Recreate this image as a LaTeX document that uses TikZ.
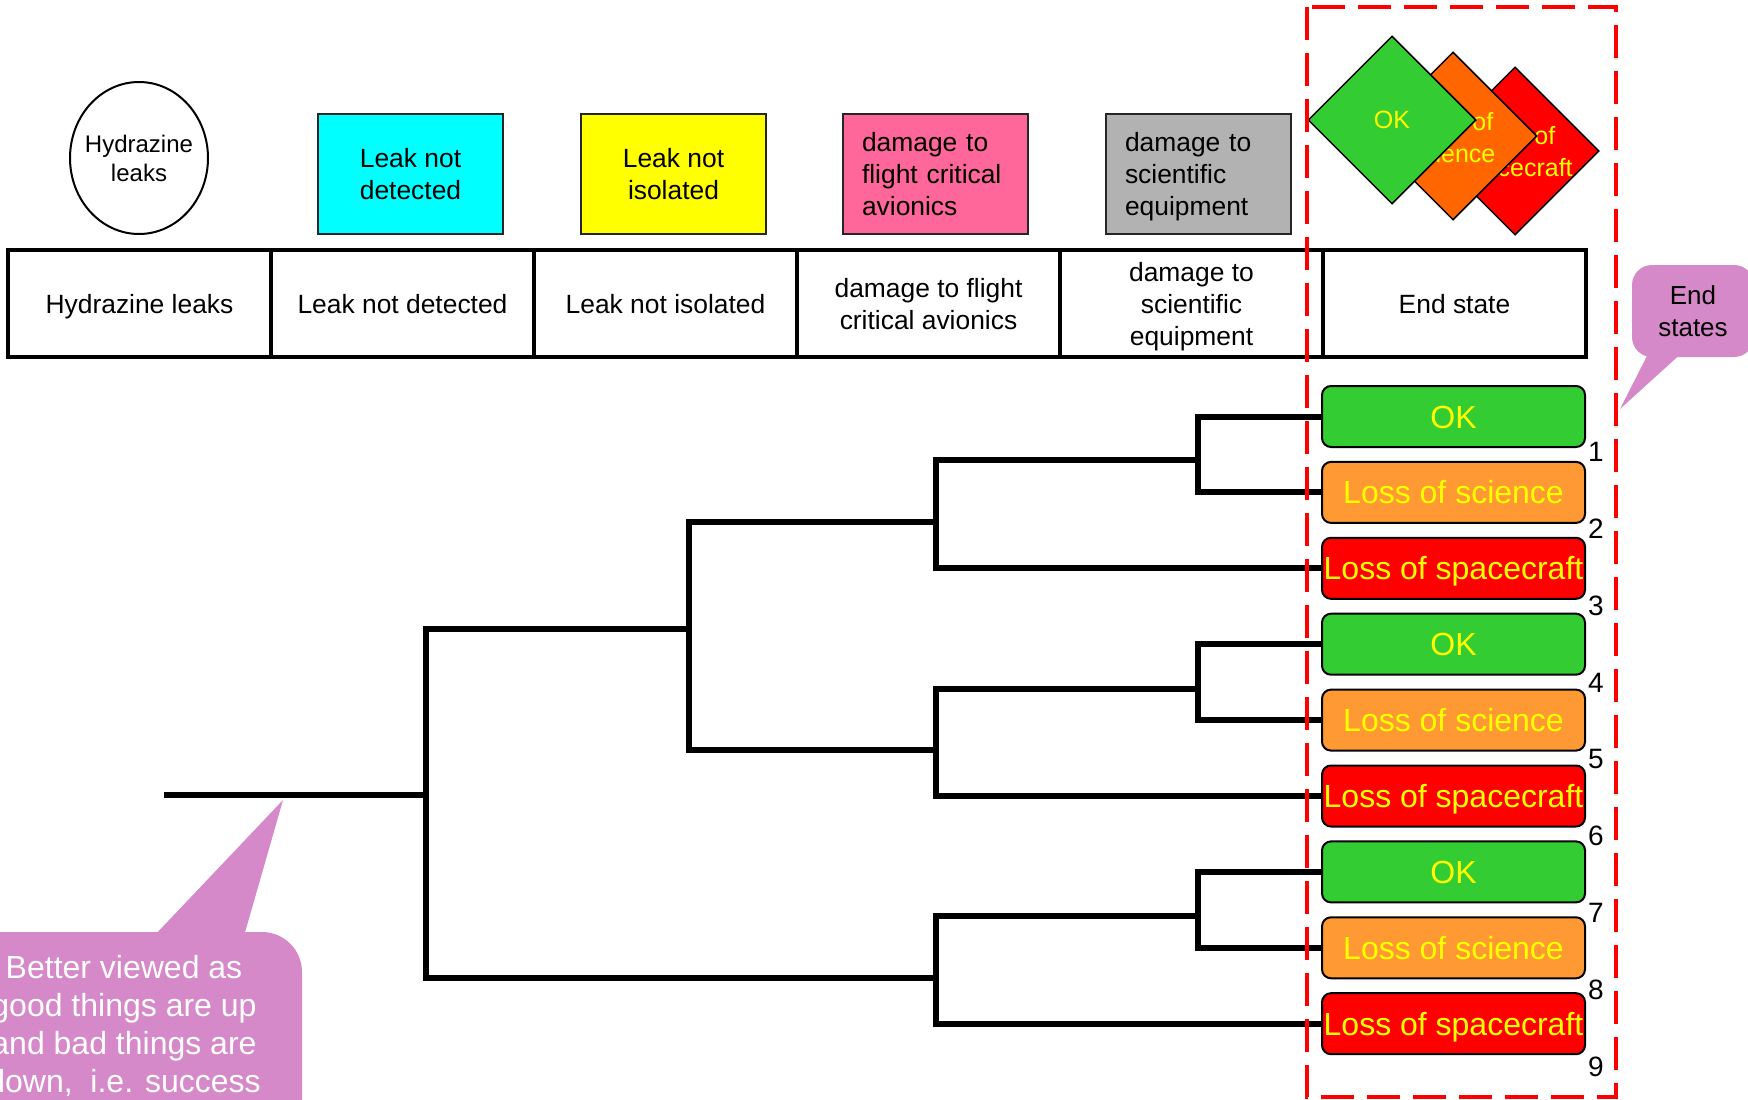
\documentclass[tikz,border=0pt]{standalone}
\usepackage{fontspec}
\setmainfont{Liberation Sans}
\usetikzlibrary{shapes.geometric}
\definecolor{okgreen}{RGB}{51,204,51}
\definecolor{sciorange}{RGB}{255,153,51}
\definecolor{tiporange}{RGB}{255,102,0}
\definecolor{lossred}{RGB}{255,0,0}
\definecolor{evcyan}{RGB}{0,255,255}
\definecolor{evyellow}{RGB}{255,255,0}
\definecolor{evpink}{RGB}{255,102,153}
\definecolor{evgray}{RGB}{178,178,178}
\definecolor{callout}{RGB}{214,137,200}
\tikzset{
	cell/.style={draw, line width=4pt, minimum width=263pt, minimum height=107pt, inner sep=0pt, text depth=0pt, align=center, font=\fontsize{26.4pt}{32pt}\selectfont},
	evbox/.style={draw=black!85, line width=2pt, minimum width=185pt, minimum height=120pt, align=center, font=\fontsize{26.4pt}{32pt}\selectfont},
	evleft/.style={align=left, text width=147pt},
	tipshape/.style={diamond, draw, line width=1.5pt, minimum width=168pt, minimum height=168pt, inner sep=0pt},
	tiptext/.style={align=center, text depth=0pt, text=evyellow, font=\fontsize{25pt}{32pt}\selectfont},
	endbox/.style={draw, line width=2pt, rounded corners=9pt, minimum width=263pt, minimum height=61pt, inner sep=0pt, text height=23pt, text depth=0pt, text=evyellow, font=\fontsize{32pt}{38pt}\selectfont},
	numlbl/.style={font=\fontsize{28pt}{32pt}\selectfont},
	branch/.style={line width=6pt},
	redframe/.style={draw=lossred, line width=4pt, dash pattern=on 33pt off 13pt},
	note/.style={fill=callout},
	notetext/.style={align=center, font=\fontsize{26pt}{32pt}\selectfont}
}
\begin{document}
\begin{tikzpicture}[x=1pt, y=-1pt]
	\def\dy{75.9};
	\useasboundingbox (0,0) rectangle (1748,1100);
	\node[cell] (h1) at (139.5,303.5) {Hydrazine leaks};
	\node[cell] (h2) at (402.5,303.5) {Leak not detected};
	\node[cell] (h3) at (665.5,303.5) {Leak not isolated};
	\node[cell] (h4) at (928.5,303.5) {damage to flight\\critical avionics};
	\node[cell] (h5) at (1191.5,303.5) {damage to\\scientific\\equipment};
	\node[cell] (h6) at (1454.5,303.5) {End state};
	\node[ellipse, draw, line width=2pt, minimum width=138pt, minimum height=152pt] (ie) at (139,158) {};
	\node[align=center, font=\fontsize{24pt}{29pt}\selectfont] (ietext) at (ie) {Hydrazine\\leaks};
	\node[evbox, fill=evcyan] (ev1) at (410.5,174) {Leak not\\detected};
	\node[evbox, fill=evyellow] (ev2) at (673.5,174) {Leak not\\isolated};
	\node[evbox, evleft, fill=evpink] (ev3) at (935.5,174) {damage to\\flight critical\\avionics};
	\node[evbox, evleft, fill=evgray] (ev4) at (1198.5,174) {damage to\\scientific\\\smash{equipment}};
	\node[tipshape, fill=lossred] (dcraft) at (1515,151) {};
	\node[tiptext] (dcrafttext) at (dcraft) {Loss of\\spacecraft};
	\node[tipshape, fill=tiporange] (dsci) at (1453,136) {};
	\node[tiptext] (dscitext) at (1453,137.5) {Loss of\\science};
	\node[tipshape, fill=okgreen] (dok) at (1392,120) {};
	\node[tiptext] (doktext) at (dok) {OK};
	\foreach \i/\c/\t in {1/okgreen/OK, 2/sciorange/Loss of science, 3/lossred/Loss of spacecraft, 4/okgreen/OK, 5/sciorange/Loss of science, 6/lossred/Loss of spacecraft, 7/okgreen/OK, 8/sciorange/Loss of science, 9/lossred/Loss of spacecraft}
	{
		\node[endbox, fill=\c] (e\i) at (1453.5,{416.5+(\i-1)*\dy}) {\t};
		\node[numlbl] (k\i) at (1596,{452+(\i-1)*76.8}) {\i};
	}
	\coordinate (start) at (164,795);
	\coordinate (n0) at (426,795);
	\coordinate (n1) at (689,629);
	\coordinate (n2) at (936,522);
	\coordinate (n3) at (1198,460);
	\coordinate (n4) at (936,750);
	\coordinate (n5) at (1198,689);
	\coordinate (n6) at (936,978);
	\coordinate (n7) at (1198,916);
	\draw[branch] (start) -- (n0);
	\draw[branch] (n0) |- (n1);
	\draw[branch] (n0) |- (n6);
	\draw[branch] (n1) |- (n2);
	\draw[branch] (n1) |- (n4);
	\draw[branch] (n2) |- (n3);
	\draw[branch] (n2) |- (e3.west);
	\draw[branch] (n3) |- (e1.west);
	\draw[branch] (n3) |- (e2.west);
	\draw[branch] (n4) |- (n5);
	\draw[branch] (n4) |- (e6.west);
	\draw[branch] (n5) |- (e4.west);
	\draw[branch] (n5) |- (e5.west);
	\draw[branch] (n6) |- (n7);
	\draw[branch] (n6) |- (e9.west);
	\draw[branch] (n7) |- (e7.west);
	\draw[branch] (n7) |- (e8.west);
	\draw[redframe] (1307,7) rectangle (1616,1097);
	\fill[note, rounded corners=20pt] (1632,265) rectangle (1754,357);
	\fill[note] (1650,350) -- (1620,409) -- (1685,350) -- cycle;
	\node[notetext] (endnote) at (1693,311) {End\\states};
	\fill[note, rounded corners=40pt] (-60,932) rectangle (302,1200);
	\fill[note] (154,936) -- (283,800) -- (244,936) -- cycle;
	\node[notetext, text=white, anchor=north, inner sep=0pt, font=\fontsize{32pt}{38pt}\selectfont] (advice) at (124,955) {Better viewed as\\good things are up\\and bad things are\\down,\ \ i.e. success};
\end{tikzpicture}
\end{document}
